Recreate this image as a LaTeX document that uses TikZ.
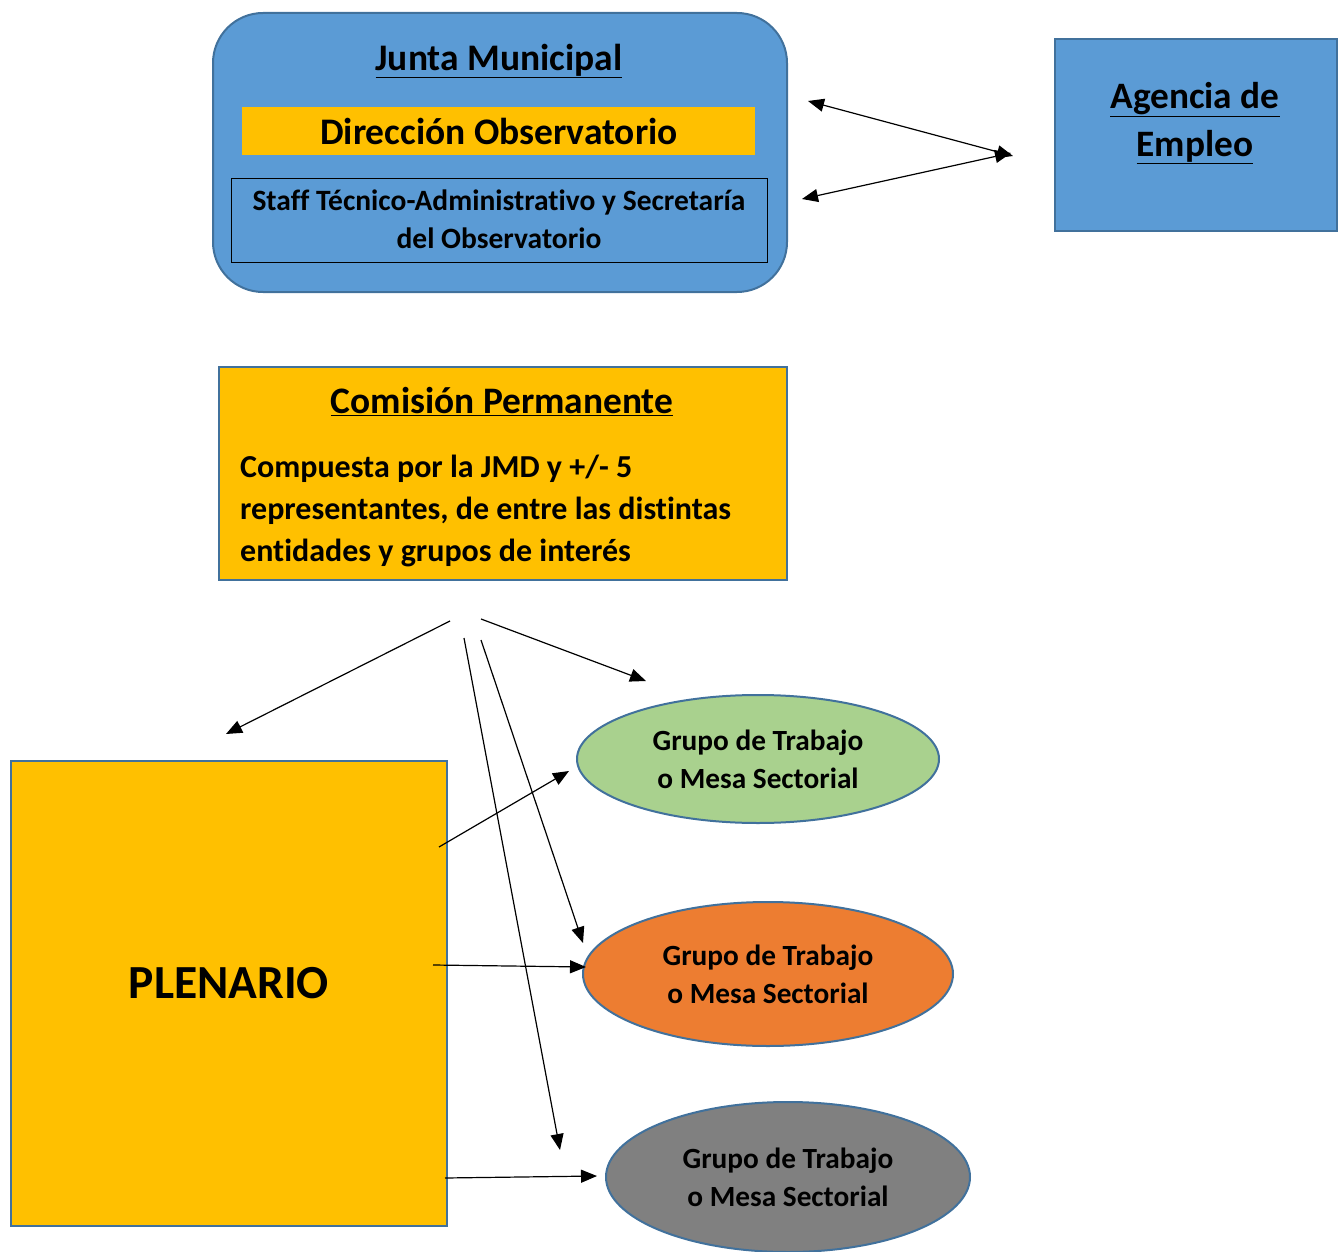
\documentclass[tikz,border=0pt]{standalone}
\usepackage{fontspec}
\setmainfont{Carlito}[Ligatures=NoCommon]
\usetikzlibrary{arrows.meta,shapes.geometric}
\definecolor{mblue}{HTML}{5B9BD5}
\definecolor{bblue}{HTML}{41719C}
\definecolor{morange}{HTML}{FFC000}
\definecolor{mgreen}{HTML}{A9D18E}
\definecolor{mred}{HTML}{ED7D31}
\definecolor{mgray}{HTML}{808080}
\tikzset{
  conn/.style={line width=1.2pt, -{Triangle[length=16pt,width=13pt]}},
  dconn/.style={line width=1.2pt, {Triangle[length=16pt,width=13pt]}-{Triangle[length=16pt,width=13pt]}},
  grp/.style={ellipse, draw=bblue, line width=2pt, align=center, font=\fontsize{29.3}{38}\selectfont\bfseries},
  lbl/.style={font=\bfseries, inner sep=0pt}
}
\begin{document}
\begin{tikzpicture}[x=1pt,y=-1pt]
\useasboundingbox (0,0) rectangle (1344,1252);
% Junta
\node[draw=bblue, fill=mblue, line width=2pt, rounded corners=50pt, minimum width=574pt, minimum height=279pt, anchor=north west] (junta) at (212,12) {};
\node[lbl, font=\fontsize{37.5}{44}\selectfont\bfseries] (juntat) at (499,61) {\underline{Junta Municipal}};
\node[fill=morange, minimum width=513pt, minimum height=48pt, anchor=north west, inner sep=0pt] (dir) at (242,107) {};
\node[lbl, font=\fontsize{37.5}{44}\selectfont\bfseries] (dirt) at (499,131) {Dirección Observatorio};
\node[draw=black, line width=1.2pt, minimum width=536pt, minimum height=84pt, anchor=north west, inner sep=0pt] (staff) at (231,178) {};
\node[lbl, align=center, font=\fontsize{29.5}{38}\selectfont\bfseries] (stafft) at (499,219) {Staff Técnico-Administrativo y Secretaría\\del Observatorio};
% Agencia
\node[draw=bblue, fill=mblue, line width=2pt, minimum width=282pt, minimum height=192pt, anchor=north west] (agencia) at (1054,38) {};
\node[lbl, align=center, font=\fontsize{37.3}{48}\selectfont\bfseries] (agt) at (1195,123) {\underline{Agencia de}\\\underline{Empleo}};
\coordinate (a1) at (808,101);
\coordinate (a2) at (1013,156);
\coordinate (a3) at (802,199);
\coordinate (a4) at (1011,153);
\draw[dconn] (a1) -- (a2);
\draw[dconn] (a3) -- (a4);
% Comision
\node[draw=bblue, fill=morange, line width=2pt, minimum width=568pt, minimum height=213pt, anchor=north west] (com) at (218,366) {};
\node[lbl, font=\fontsize{37.4}{44}\selectfont\bfseries] (comt) at (502,402) {\underline{Comisión Permanente}};
\node[lbl, align=left, anchor=west, font=\fontsize{32}{42}\selectfont\bfseries] (comb) at (240,511) {Compuesta por la JMD y +/- 5\\representantes, de entre las distintas\\entidades y grupos de interés};
% Plenario
\node[draw=bblue, fill=morange, line width=2pt, minimum width=436pt, minimum height=465pt, anchor=north west] (plen) at (10,760) {};
\node[lbl, font=\fontsize{47.5}{54}\selectfont\bfseries] (plent) at (229,983) {PLENARIO};
% Groups
\node[grp, fill=mgreen, minimum width=362pt, minimum height=128pt] (g1) at (758,759) {Grupo de Trabajo\\o Mesa Sectorial};
\node[grp, fill=mred, minimum width=370pt, minimum height=144pt] (g2) at (768,974) {Grupo de Trabajo\\o Mesa Sectorial};
\node[grp, fill=mgray, minimum width=364pt, minimum height=150pt] (g3) at (788,1177) {Grupo de Trabajo\\o Mesa Sectorial};
% arrows from comision
\coordinate (c1) at (450,621);
\coordinate (c1e) at (226,734);
\coordinate (c2) at (481,619);
\coordinate (c2e) at (646,681);
\coordinate (c3) at (464,638);
\coordinate (c3e) at (560,1150);
\coordinate (c4) at (481,640);
\coordinate (c4e) at (583,943);
\draw[conn] (c1) -- (c1e);
\draw[conn] (c2) -- (c2e);
\draw[conn] (c3) -- (c3e);
\draw[conn] (c4) -- (c4e);
% arrows from plenario
\coordinate (p1) at (439,847);
\coordinate (p1e) at (569,771);
\coordinate (p2) at (433,965);
\coordinate (p2e) at (586,967);
\coordinate (p3) at (445,1178);
\coordinate (p3e) at (597,1176);
\draw[conn] (p1) -- (p1e);
\draw[conn] (p2) -- (p2e);
\draw[conn] (p3) -- (p3e);
\end{tikzpicture}
\end{document}
